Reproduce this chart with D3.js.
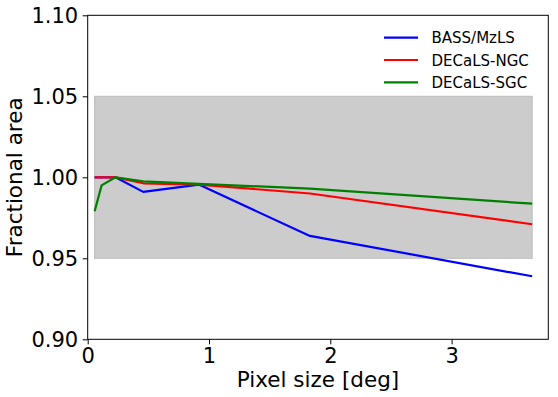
<!DOCTYPE html>
<html>
<head>
<meta charset="utf-8">
<script src="https://cdn.jsdelivr.net/npm/d3@7"></script>
<style>
  body { margin: 0; background: #fff; }
  svg, svg text { font-family: "DejaVu Sans", sans-serif; }
  svg { display: block; }
  .tick text { font-size: 21px; fill: #000; font-family: "DejaVu Sans", sans-serif; }
  .tick line, .domain { stroke: #000; }
</style>
</head>
<body>
<div id="chart"></div>
<script>
// pixel sizes of healpix maps (deg)
var pixelSize = [0.0573, 0.1145, 0.229, 0.458, 0.916, 1.832, 3.664];
var bass = [1.000, 1.000, 1.000, 0.991, 0.9955, 0.9638, 0.9389];
var decalsNgc = [1.000, 1.000, 1.000, 0.9963, 0.9955, 0.990, 0.971];
var decalsSgc = [0.979, 0.995, 1.000, 0.9975, 0.996, 0.993, 0.9837];
var seriesNames = ['BASS/MzLS', 'DECaLS-NGC', 'DECaLS-SGC'];
var seriesColors = ['#0000ff', '#ff0000', '#008000'];
var xTicks = [0, 1, 2, 3];
var yTicks = [0.90, 0.95, 1.00, 1.05, 1.10];
var band = [0.95, 1.05];

var W = 558, H = 397;
var margin = {top: 15.3, right: 9.7, bottom: 57.7, left: 87.7};
var width = W - margin.left - margin.right,
    height = H - margin.top - margin.bottom;

var svg = d3.select('#chart').append('svg').attr('width', W).attr('height', H);
var g = svg.append('g').attr('transform', 'translate(' + margin.left + ',' + margin.top + ')');

var x = d3.scaleLinear().domain([0, 3.797]).range([0, width]);
var y = d3.scaleLinear().domain([0.90, 1.10]).range([height, 0]);

// shaded +-5% band
g.append('rect')
  .attr('x', x(d3.min(pixelSize)))
  .attr('width', x(d3.max(pixelSize)) - x(d3.min(pixelSize)))
  .attr('y', y(band[1]))
  .attr('height', y(band[0]) - y(band[1]))
  .attr('fill', '#cccccc')
  .attr('stroke', '#bcbcbc')
  .attr('stroke-width', 1);

var line = d3.line()
  .x(function(d) { return x(d[0]); })
  .y(function(d) { return y(d[1]); });

var series = [bass, decalsNgc, decalsSgc];
series.forEach(function(vals, i) {
  g.append('path')
    .datum(pixelSize.map(function(p, j) { return [p, vals[j]]; }))
    .attr('d', line)
    .attr('fill', 'none')
    .attr('stroke', seriesColors[i])
    .attr('stroke-width', 2.2)
    .attr('stroke-linejoin', 'round');
});

// frame
g.append('rect').attr('width', width).attr('height', height)
  .attr('fill', 'none').attr('stroke', '#000').attr('stroke-width', 1);

var xAxis = d3.axisBottom(x).tickValues(xTicks).tickFormat(d3.format('d')).tickSize(5).tickPadding(3.5);
var yAxis = d3.axisLeft(y).tickValues(yTicks).tickFormat(d3.format('.2f')).tickSize(5).tickPadding(4.5);

g.append('g').attr('transform', 'translate(0,' + height + ')').call(xAxis)
  .call(function(s) { s.select('.domain').remove(); });
g.append('g').call(yAxis)
  .call(function(s) { s.select('.domain').remove(); });

g.append('text')
  .attr('x', width / 2).attr('y', height + 48)
  .attr('text-anchor', 'middle')
  .attr('font-size', '21.5px')
  .text('Pixel size [deg]');

g.append('text')
  .attr('transform', 'translate(' + (-margin.left + 22) + ',' + (height / 2) + ') rotate(-90)')
  .attr('text-anchor', 'middle')
  .attr('font-size', '21.5px')
  .text('Fractional area');

// legend
var legend = g.append('g').attr('transform', 'translate(' + (384 - margin.left) + ',' + (37.7 - margin.top) + ')');
seriesNames.forEach(function(name, i) {
  var row = legend.append('g').attr('transform', 'translate(0,' + (i * 22.3) + ')');
  row.append('line').attr('x1', 0).attr('x2', 34).attr('y1', 0).attr('y2', 0)
    .attr('stroke', seriesColors[i]).attr('stroke-width', 2.2);
  row.append('text').attr('x', 47.5).attr('y', 5.5)
    .attr('font-size', '15px').text(name);
});
</script>
</body>
</html>
